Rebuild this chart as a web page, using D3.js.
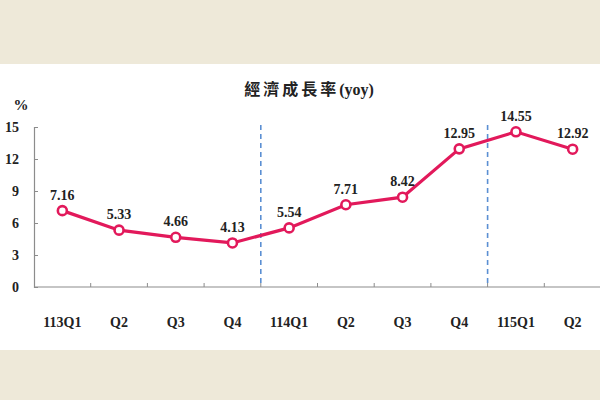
<!DOCTYPE html>
<html>
<head>
<meta charset="utf-8">
<script src="https://cdn.jsdelivr.net/npm/d3@7"></script>
<style>
  body { margin: 0; background: #eee9d9; }
  svg { display: block; }
  svg text { font-family: "Liberation Serif", "DejaVu Serif", "Noto Sans CJK TC", serif; font-weight: bold; fill: #222; }
</style>
</head>
<body>
<div class="chart"></div>
<script>
var categories = ["113Q1", "Q2", "Q3", "Q4", "114Q1", "Q2", "Q3", "Q4", "115Q1", "Q2"],
    growth = [7.16, 5.33, 4.66, 4.13, 5.54, 7.71, 8.42, 12.95, 14.55, 12.92],
    yTicks = [0, 3, 6, 9, 12, 15],
    yearBreaks = [4, 8]   // dashed line before these category indexes

var width = 600,
    height = 400,
    margin = {top: 127, bottom: 113, left: 34, right: -1}

var svg = d3.select(".chart").append("svg")
    .attr("width", width)
    .attr("height", height)

// white panel
svg.append("rect")
    .attr("x", 0)
    .attr("y", 64)
    .attr("width", width)
    .attr("height", 286)
    .attr("fill", "#ffffff")

var x = d3.scaleBand()
    .domain(d3.range(categories.length))
    .range([margin.left, width - margin.right])

var y = d3.scaleLinear()
    .domain([0, 15])
    .range([height - margin.bottom, margin.top])

// title
var title = svg.append("text")
    .attr("x", 309)
    .attr("y", 95)
    .attr("text-anchor", "middle")
    .attr("font-size", "16px")
title.append("tspan").attr("letter-spacing", "3px").text("經濟成長率")
title.append("tspan").text("(yoy)")

svg.append("text")
    .attr("x", 21)
    .attr("y", 110)
    .attr("text-anchor", "middle")
    .attr("font-size", "15px")
    .text("%")

// y axis
var yAxis = svg.append("g")
    .attr("transform", "translate(" + margin.left + ",0)")
    .call(d3.axisRight(y).tickValues(yTicks).tickSize(4).tickFormat(""))
yAxis.select(".domain").attr("stroke", "#8c8c8c").attr("stroke-width", 1.2)
yAxis.selectAll(".tick line").attr("stroke", "#8c8c8c")

svg.append("g").selectAll("text")
    .data(yTicks)
    .enter()
    .append("text")
    .attr("x", 19)
    .attr("y", function(d) { return y(d) + 5; })
    .attr("text-anchor", "end")
    .attr("font-size", "14px")
    .text(function(d) { return d; })

// x axis with ticks between categories
var bounds = d3.range(1, categories.length).map(function(i) { return x(i); })
var xAxisG = svg.append("g")
    .attr("transform", "translate(0," + y(0) + ")")
xAxisG.append("line")
    .attr("x1", margin.left)
    .attr("x2", width)
    .attr("stroke", "#8c8c8c")
    .attr("stroke-width", 1.2)
xAxisG.selectAll(".tick")
    .data(bounds)
    .enter()
    .append("line")
    .attr("x1", function(d) { return d; })
    .attr("x2", function(d) { return d; })
    .attr("y1", 0)
    .attr("y2", -4)
    .attr("stroke", "#8c8c8c")

svg.append("g").selectAll("text")
    .data(categories)
    .enter()
    .append("text")
    .attr("x", function(d, i) { return x(i) + x.bandwidth() / 2; })
    .attr("y", 327)
    .attr("text-anchor", "middle")
    .attr("font-size", "14px")
    .text(function(d) { return d; })

// year separators
svg.append("g").selectAll("line")
    .data(yearBreaks)
    .enter()
    .append("line")
    .attr("x1", function(d) { return x(d); })
    .attr("x2", function(d) { return x(d); })
    .attr("y1", y(15) - 2)
    .attr("y2", y(0))
    .attr("stroke", "#5b8fd3")
    .attr("stroke-width", 1.6)
    .attr("stroke-dasharray", "5,4")

// line + markers
var line = d3.line()
    .x(function(d, i) { return x(i) + x.bandwidth() / 2; })
    .y(function(d) { return y(d); })

svg.append("path")
    .datum(growth)
    .attr("d", line)
    .attr("fill", "none")
    .attr("stroke", "#e2195b")
    .attr("stroke-width", 3.2)

svg.append("g").selectAll("circle")
    .data(growth)
    .enter()
    .append("circle")
    .attr("cx", function(d, i) { return x(i) + x.bandwidth() / 2; })
    .attr("cy", function(d) { return y(d); })
    .attr("r", 4.5)
    .attr("fill", "#fff")
    .attr("stroke", "#e2195b")
    .attr("stroke-width", 2.6)

svg.append("g").selectAll("text")
    .data(growth)
    .enter()
    .append("text")
    .attr("x", function(d, i) { return x(i) + x.bandwidth() / 2; })
    .attr("y", function(d) { return y(d) - 11; })
    .attr("text-anchor", "middle")
    .attr("font-size", "14px")
    .text(function(d) { return d.toFixed(2); })
</script>
</body>
</html>
